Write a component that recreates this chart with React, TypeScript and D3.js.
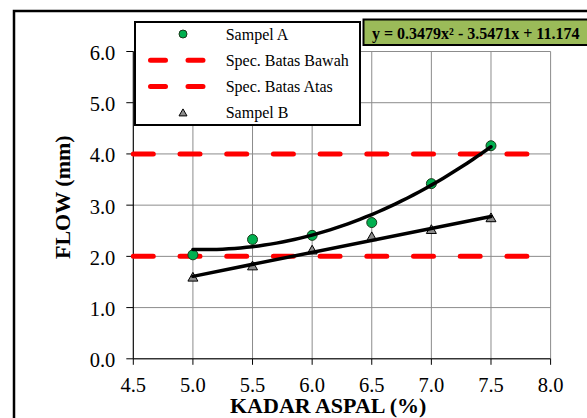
import React from "react";
import * as d3 from "d3";

const kadarAspal = [5.0, 5.5, 6.0, 6.5, 7.0, 7.5];
const sampelA = [2.03, 2.33, 2.41, 2.66, 3.42, 4.16];
const sampelB = [1.59, 1.81, 2.12, 2.38, 2.52, 2.75];
const specBawah = 2.0;
const specAtas = 4.0;
const polyA = [0.3479, -3.5471, 11.174];
const xTicks = [4.5, 5.0, 5.5, 6.0, 6.5, 7.0, 7.5, 8.0];
const yTicks = [0, 1, 2, 3, 4, 5, 6];
const legendLabels = ["Sampel A", "Spec. Batas Bawah", "Spec. Batas Atas", "Sampel B"];
const equationText = "y = 0.3479x² - 3.5471x + 11.174";

const W = 587;
const H = 418;
const L = 133.3;
const R = 550.6;
const T = 51.5;
const B = 358.8;

export default function App() {
  const x = d3.scaleLinear().domain([4.5, 8.0]).range([L, R]);
  const y = d3.scaleLinear().domain([0, 6]).range([B, T]);

  const xs = d3.range(5.0, 7.5001, 0.05);
  const lineGen = d3
    .line<[number, number]>()
    .x((d) => x(d[0]))
    .y((d) => y(d[1]));
  const polyPts: [number, number][] = xs.map((v) => [v, polyA[0] * v * v + polyA[1] * v + polyA[2]]);

  const mx = d3.mean(kadarAspal)!;
  const my = d3.mean(sampelB)!;
  let sxy = 0,
    sxx = 0;
  kadarAspal.forEach((v, i) => {
    sxy += (v - mx) * (sampelB[i] - my);
    sxx += (v - mx) * (v - mx);
  });
  const slope = sxy / sxx;
  const icpt = my - slope * mx;
  const linPts: [number, number][] = [
    [5.0, icpt + slope * 5.0],
    [7.5, icpt + slope * 7.5],
  ];

  const tri = (cx: number, cy: number, s = 5) =>
    `M${cx},${cy - s} L${cx + s},${cy + s * 0.75} L${cx - s},${cy + s * 0.75} Z`;

  const font = "'Liberation Serif', 'Times New Roman', serif";
  const gridColor = "#8c8c8c";

  return (
    <svg
      width={W}
      height={H}
      style={{ position: "absolute", left: 0, top: 0, background: "#fff" }}
      fontFamily={font}
    >
      <rect x={14} y={11} width={700} height={600} fill="#fff" stroke="#000" strokeWidth={2.5} />

      {yTicks.map((t) => (
        <line key={"gy" + t} x1={L} x2={R} y1={y(t)} y2={y(t)} stroke={gridColor} strokeWidth={1} />
      ))}
      {xTicks.map((t) => (
        <line key={"gx" + t} x1={x(t)} x2={x(t)} y1={T} y2={B} stroke={gridColor} strokeWidth={1} />
      ))}

      <line x1={L} x2={L} y1={T} y2={B} stroke="#000" strokeWidth={1} />
      <line x1={L} x2={R} y1={B} y2={B} stroke="#000" strokeWidth={1} />
      {yTicks.map((t) => (
        <g key={"ty" + t}>
          <line x1={L - 7} x2={L} y1={y(t)} y2={y(t)} stroke="#000" strokeWidth={1} />
          <text x={L - 18} y={y(t) + 1.5} textAnchor="end" dominantBaseline="central" fontSize={20.5}>
            {t.toFixed(1)}
          </text>
        </g>
      ))}
      {xTicks.map((t) => (
        <g key={"tx" + t}>
          <line x1={x(t)} x2={x(t)} y1={B} y2={B + 6} stroke="#000" strokeWidth={1} />
          <text x={x(t)} y={391.5} textAnchor="middle" fontSize={20.5}>
            {t.toFixed(1)}
          </text>
        </g>
      ))}

      {[specBawah, specAtas].map((v, i) => (
        <line
          key={"spec" + i}
          x1={x(4.5)}
          x2={x(8.0)}
          y1={y(v)}
          y2={y(v)}
          stroke="#ff0000"
          strokeWidth={5}
          strokeLinecap="round"
          strokeDasharray="20 26.7"
        />
      ))}

      {kadarAspal.map((v, i) => (
        <circle
          key={"a" + i}
          cx={x(v)}
          cy={y(sampelA[i])}
          r={5}
          fill="#00b050"
          stroke="#1a3a1a"
          strokeWidth={1}
        />
      ))}
      {kadarAspal.map((v, i) => (
        <path key={"b" + i} d={tri(x(v), y(sampelB[i]))} fill="#8c8c8c" stroke="#000" strokeWidth={1} />
      ))}

      <path d={lineGen(polyPts)!} fill="none" stroke="#000" strokeWidth={3.5} strokeLinecap="round" />
      <path d={lineGen(linPts)!} fill="none" stroke="#000" strokeWidth={3.5} strokeLinecap="round" />

      <text x={230} y={412.5} textAnchor="start" fontSize={22} fontWeight="bold">
        KADAR ASPAL (%)
      </text>
      <text transform={`translate(70,259) rotate(-90)`} textAnchor="start" fontSize={22} fontWeight="bold">
        FLOW (mm)
      </text>

      <rect x={135} y={22} width={225} height={103} fill="#fff" stroke="#000" strokeWidth={2} />
      {legendLabels.map((lab, i) => {
        const ly = 34 + i * 26.3;
        return (
          <g key={"lg" + i}>
            {i === 0 && <circle cx={183} cy={ly} r={4} fill="#00b050" stroke="#1a3a1a" strokeWidth={1} />}
            {(i === 1 || i === 2) && (
              <line
                x1={150.5}
                x2={203}
                y1={ly}
                y2={ly}
                stroke="#ff0000"
                strokeWidth={5}
                strokeLinecap="round"
                strokeDasharray="15 22.5"
              />
            )}
            {i === 3 && <path d={tri(183, ly, 4)} fill="#8c8c8c" stroke="#000" strokeWidth={1} />}
            <text x={225.7} y={ly} dominantBaseline="central" fontSize={16}>
              {lab}
            </text>
          </g>
        );
      })}

      <rect x={363.5} y={19.5} width={240} height={25.5} fill="#9bbb59" stroke="#000" strokeWidth={2} />
      <text x={372} y={39} fontSize={16} fontWeight="bold">
        {equationText}
      </text>
    </svg>
  );
}
